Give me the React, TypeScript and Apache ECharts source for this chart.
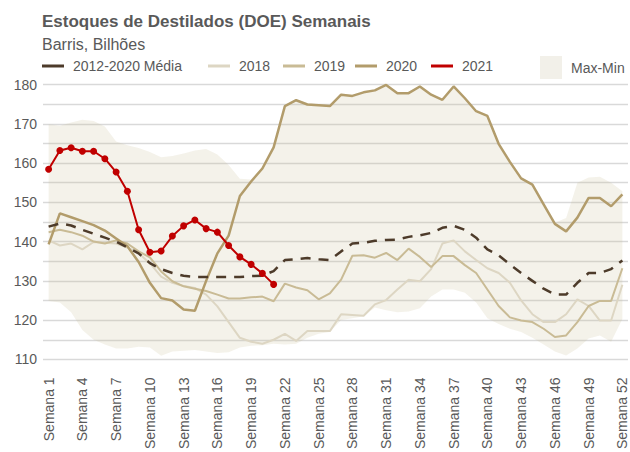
import React, { useEffect, useRef } from "react";
import * as echarts from "echarts";

const weeks: string[] = Array.from({ length: 52 }, (_, i) => `Semana ${i + 1}`);

const avg1220 = [143.8, 144.6, 144.1, 143.0, 142.0, 141.0, 140.0, 138.5, 137.0, 134.5, 133.0, 132.0, 131.3, 131.0, 131.0, 131.0, 131.0, 131.0, 131.2, 131.3, 132.5, 135.3, 135.5, 135.8, 135.5, 135.3, 137.5, 139.5, 139.7, 140.2, 140.4, 140.5, 141.2, 141.6, 142.2, 143.5, 144.0, 143.0, 141.0, 138.0, 136.5, 134.2, 132.0, 130.0, 128.0, 126.5, 126.5, 129.5, 132.0, 132.0, 133.0, 135.2];

const y2018 = [140.3, 139.0, 139.5, 138.0, 139.9, 139.7, 139.5, 138.5, 137.0, 134.5, 131.1, 129.5, 128.7, 128.2, 126.5, 123.5, 119.5, 115.5, 114.5, 114.0, 115.0, 116.5, 114.7, 117.2, 117.2, 117.2, 121.5, 121.3, 121.1, 124.0, 125.1, 127.8, 130.3, 129.9, 133.0, 139.5, 140.3, 137.5, 135.3, 133.2, 132.0, 129.5, 125.0, 121.5, 119.5, 119.5, 121.5, 125.3, 123.6, 119.9, 119.9, 129.0];

const y2019 = [142.4, 143.0, 142.4, 141.5, 140.0, 139.5, 140.3, 139.5, 137.5, 136.0, 132.4, 129.9, 128.6, 128.0, 127.4, 126.5, 125.5, 125.5, 125.8, 126.0, 124.8, 129.3, 128.3, 127.6, 125.3, 126.8, 130.3, 136.4, 136.5, 135.9, 137.1, 135.3, 138.2, 136.1, 133.5, 136.3, 136.3, 134.0, 132.0, 127.8, 123.6, 120.7, 119.9, 119.5, 117.8, 115.7, 116.1, 119.5, 123.6, 124.9, 124.9, 133.2];

const y2020 = [139.3, 147.2, 146.2, 145.2, 144.2, 142.8, 140.8, 138.8, 134.8, 129.5, 125.6, 125.0, 122.7, 122.4, 130.0, 137.0, 141.5, 151.6, 155.3, 158.6, 164.0, 174.5, 176.0, 174.9, 174.7, 174.5, 177.4, 177.1, 178.0, 178.5, 179.9, 177.8, 177.8, 179.5, 177.4, 176.1, 179.5, 176.5, 173.2, 172.0, 164.9, 160.3, 156.1, 154.5, 149.5, 144.5, 142.6, 146.1, 151.1, 151.1, 149.0, 152.0];

const y2021 = [158.4, 163.2, 163.9, 163.0, 163.0, 161.1, 157.7, 152.8, 143.0, 137.3, 137.6, 141.4, 144.0, 145.5, 143.3, 142.4, 139.0, 136.1, 134.2, 131.9, 129.1];

const bandMax = [169.9, 169.5, 170.3, 171.0, 170.7, 169.3, 165.5, 164.5, 163.8, 162.8, 161.5, 161.8, 162.4, 163.2, 163.6, 162.2, 159.5, 156.0, 155.8, 159.0, 164.3, 174.8, 176.3, 175.2, 175.0, 174.8, 177.7, 177.4, 178.3, 178.8, 180.2, 178.1, 178.1, 179.8, 177.7, 176.4, 179.8, 176.8, 173.5, 172.3, 165.2, 160.6, 156.4, 154.8, 149.8, 144.8, 146.0, 155.0, 156.3, 156.5, 155.0, 152.8];

const bandMin = [124.9, 124.5, 122.0, 117.5, 115.0, 113.8, 112.8, 112.8, 113.2, 113.0, 110.9, 112.0, 112.2, 112.4, 112.0, 111.6, 111.8, 113.0, 113.5, 113.6, 114.0, 113.8, 114.0, 115.5, 116.5, 117.0, 120.0, 120.5, 121.0, 123.2, 122.5, 122.0, 122.2, 123.0, 126.0, 127.8, 127.8, 127.0, 124.5, 120.5, 119.0, 117.8, 117.0, 115.5, 113.8, 112.0, 111.0, 112.8, 115.3, 116.1, 114.5, 120.3];

const yTicks = { min: 110, max: 180, step: 5 };

const FONT = "'Liberation Sans', Arial, sans-serif";
const GREY = "#595959";
const C_AVG = "#4d3b2a";
const C_2018 = "#ddd6c3";
const C_2019 = "#c9bb95";
const C_2020 = "#b29c6b";
const C_2021 = "#c00000";
const C_BAND = "rgba(200,190,150,0.2)";

export default function App() {
  const ref = useRef<HTMLDivElement>(null);

  useEffect(() => {
    if (!ref.current) return;
    const chart = echarts.init(ref.current, undefined, { renderer: "svg" });
    const bandDiff = bandMax.map((v, i) => +(v - bandMin[i]).toFixed(2));

    const lineLegend = (name: string, left: number) => ({
      data: [{ name, icon: "rect" }],
      left,
      top: 59,
      padding: 0,
      itemWidth: 22,
      itemHeight: 3,
      textStyle: { color: GREY, fontSize: 14, fontFamily: FONT, padding: [0, 0, 0, 4] },
      selectedMode: false,
    });

    chart.setOption({
      animation: false,
      textStyle: { fontFamily: FONT },
      title: {
        text: "Estoques de Destilados (DOE) Semanais",
        subtext: "Barris, Bilhões",
        left: 42,
        top: 13,
        padding: 0,
        itemGap: 6,
        textStyle: { color: GREY, fontSize: 17, fontWeight: "bold", fontFamily: FONT },
        subtextStyle: { color: GREY, fontSize: 16, fontFamily: FONT },
      },
      legend: [
        lineLegend("2012-2020 Média", 42),
        lineLegend("2018", 208),
        lineLegend("2019", 283),
        lineLegend("2020", 355),
        lineLegend("2021", 431),
        {
          data: [{ name: "Max-Min", icon: "rect" }],
          left: 540,
          top: 56,
          padding: 0,
          itemWidth: 22,
          itemHeight: 23,
          itemStyle: { color: "#f2f0e9" },
          textStyle: { color: GREY, fontSize: 14, fontFamily: FONT, padding: [0, 0, 0, 4] },
          selectedMode: false,
        },
      ],
      grid: { left: 43, right: 2, top: 84.5, bottom: 87, containLabel: false },
      xAxis: {
        type: "category",
        data: weeks,
        boundaryGap: true,
        axisLine: { show: false },
        axisTick: { show: false },
        axisLabel: {
          interval: 2,
          rotate: 90,
          margin: 18,
          color: GREY,
          fontSize: 14,
          fontFamily: FONT,
        },
        splitLine: { show: false },
      },
      yAxis: {
        type: "value",
        min: yTicks.min,
        max: yTicks.max,
        interval: yTicks.step,
        axisLine: { show: false },
        axisTick: { show: false },
        axisLabel: {
          margin: 6,
          color: GREY,
          fontSize: 14,
          fontFamily: FONT,
          formatter: (v: number) => (v % 10 === 0 ? String(v) : ""),
        },
        splitLine: { show: true, lineStyle: { color: "#d9d9d9", width: 1.3 } },
      },
      series: [
        {
          name: "Min",
          type: "line",
          stack: "band",
          data: bandMin,
          symbol: "none",
          lineStyle: { opacity: 0 },
          silent: true,
          z: 1,
        },
        {
          name: "Max-Min",
          type: "line",
          stack: "band",
          data: bandDiff,
          symbol: "none",
          lineStyle: { opacity: 0 },
          itemStyle: { color: "#f2f0e9" },
          areaStyle: { color: C_BAND, opacity: 1 },
          silent: true,
          z: 1,
        },
        {
          name: "2018",
          type: "line",
          data: y2018,
          symbol: "none",
          itemStyle: { color: C_2018 },
          lineStyle: { color: C_2018, width: 2 },
          z: 2,
        },
        {
          name: "2019",
          type: "line",
          data: y2019,
          symbol: "none",
          itemStyle: { color: C_2019 },
          lineStyle: { color: C_2019, width: 2 },
          z: 3,
        },
        {
          name: "2020",
          type: "line",
          data: y2020,
          symbol: "none",
          itemStyle: { color: C_2020 },
          lineStyle: { color: C_2020, width: 2.5 },
          z: 4,
        },
        {
          name: "2012-2020 Média",
          type: "line",
          data: avg1220,
          symbol: "none",
          itemStyle: { color: C_AVG },
          lineStyle: { color: C_AVG, width: 2.5, type: [10, 8] },
          z: 5,
        },
        {
          name: "2021",
          type: "line",
          data: y2021,
          symbol: "circle",
          symbolSize: 7,
          itemStyle: { color: C_2021 },
          lineStyle: { color: C_2021, width: 2 },
          z: 6,
        },
      ],
    });

    return () => chart.dispose();
  }, []);

  return (
    <div
      ref={ref}
      style={{ position: "absolute", left: 0, top: 0, width: 630, height: 452 }}
    />
  );
}
